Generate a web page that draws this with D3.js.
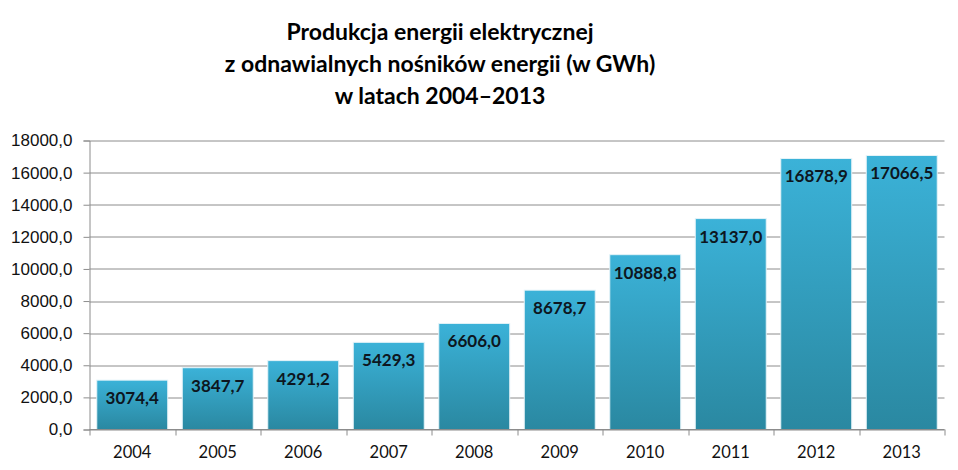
<!DOCTYPE html>
<meta charset="utf-8">
<head>
  <style>
  body { margin: 0; background: #fff; font-family: Lato, "Open Sans", sans-serif; }
  .title { font-weight: bold; font-size: 23px; fill: #000; }
  .ylab { font-size: 17px; fill: #111; }
  .xlab { font-size: 16.5px; fill: #111; }
  .val { font-weight: bold; font-size: 17px; fill: #0d1620; }
  </style>
</head>
<body>
<div id="graph"></div>
<script src="https://d3js.org/d3.v7.min.js"></script>
<script>

var years = ["2004","2005","2006","2007","2008","2009","2010","2011","2012","2013"];
var production = [3074.4, 3847.7, 4291.2, 5429.3, 6606.0, 8678.7, 10888.8, 13137.0, 16878.9, 17066.5];
var yTicks = [0,2000,4000,6000,8000,10000,12000,14000,16000,18000];
var titleLines = ["Produkcja energii elektrycznej", "z odnawialnych nośników energii (w GWh)", "w latach 2004\u20132013"];

var W = 958, H = 470;
var margin = {top: 140.5, right: 13.5, bottom: 40.5, left: 89.5};
var width = W - margin.left - margin.right,
    height = H - margin.top - margin.bottom;

var fmt = function(v){ return d3.format(".1f")(v).replace(".", ","); };

var svg = d3.select("#graph").append("svg")
  .attr("width", W)
  .attr("height", H);

var defs = svg.append("defs");
var grad = defs.append("linearGradient")
  .attr("id", "barGrad")
  .attr("x1", 0).attr("y1", 0).attr("x2", 0).attr("y2", 1);
grad.append("stop").attr("offset", "0%").attr("stop-color", "#3bb2d8");
grad.append("stop").attr("offset", "100%").attr("stop-color", "#2a88a1");

// title
svg.selectAll(".title")
  .data(titleLines)
  .enter().append("text")
  .attr("class", "title")
  .attr("x", 440)
  .attr("y", function(d, i){ return 40 + i * 32; })
  .attr("text-anchor", "middle")
  .text(function(d){ return d; });

var g = svg.append("g").attr("transform", "translate(" + margin.left + "," + margin.top + ")");

var x = d3.scaleBand()
  .domain(years)
  .range([0, width])
  .paddingInner(0.17)
  .paddingOuter(0.085);

var y = d3.scaleLinear()
  .domain([0, 18000])
  .range([height, 0]);

// gridlines
g.selectAll(".grid")
  .data(yTicks)
  .enter().append("line")
  .attr("x1", 0)
  .attr("x2", width)
  .attr("y1", function(d){ return Math.round(y(d)) + 0.5; })
  .attr("y2", function(d){ return Math.round(y(d)) + 0.5; })
  .attr("stroke", "#8c8c8c")
  .attr("stroke-width", 1);

// y axis
var Yaxis = d3.axisLeft(y).tickValues(yTicks).tickSize(6).tickPadding(11).tickFormat(fmt);
var ya = g.append("g").call(Yaxis);
ya.select(".domain").attr("stroke", "#8c8c8c");
ya.selectAll(".tick line").attr("stroke", "#8c8c8c");
ya.selectAll(".tick text").attr("class", "ylab").attr("font-family", null).attr("font-size", null).attr("fill", null);

// bars
g.selectAll(".bar")
  .data(production)
  .enter().append("rect")
  .attr("class", "bar")
  .attr("x", function(d, i){ return x(years[i]); })
  .attr("width", x.bandwidth())
  .attr("y", function(d){ return y(d); })
  .attr("height", function(d){ return height - y(d); })
  .attr("fill", "url(#barGrad)")
  .attr("stroke", "#e4f3f8")
  .attr("stroke-width", 1);

// values
g.selectAll(".val")
  .data(production)
  .enter().append("text")
  .attr("class", "val")
  .attr("x", function(d, i){ return x(years[i]) + x.bandwidth() / 2; })
  .attr("y", function(d){ return y(d) + 24; })
  .attr("text-anchor", "middle")
  .text(function(d){ return fmt(d); });

// x axis with ticks at category boundaries
g.append("line")
  .attr("x1", 0).attr("x2", width)
  .attr("y1", height).attr("y2", height)
  .attr("stroke", "#8c8c8c");

var step = x.step();
g.selectAll(".xtick")
  .data(d3.range(years.length + 1))
  .enter().append("line")
  .attr("x1", function(d){ return Math.round(d * step) + 0.5; })
  .attr("x2", function(d){ return Math.round(d * step) + 0.5; })
  .attr("y1", height)
  .attr("y2", height + 6)
  .attr("stroke", "#8c8c8c");

g.selectAll(".xlab")
  .data(years)
  .enter().append("text")
  .attr("class", "xlab")
  .attr("x", function(d){ return x(d) + x.bandwidth() / 2; })
  .attr("y", height + 28)
  .attr("text-anchor", "middle")
  .text(function(d){ return d; });

</script>
</body>
</html>
